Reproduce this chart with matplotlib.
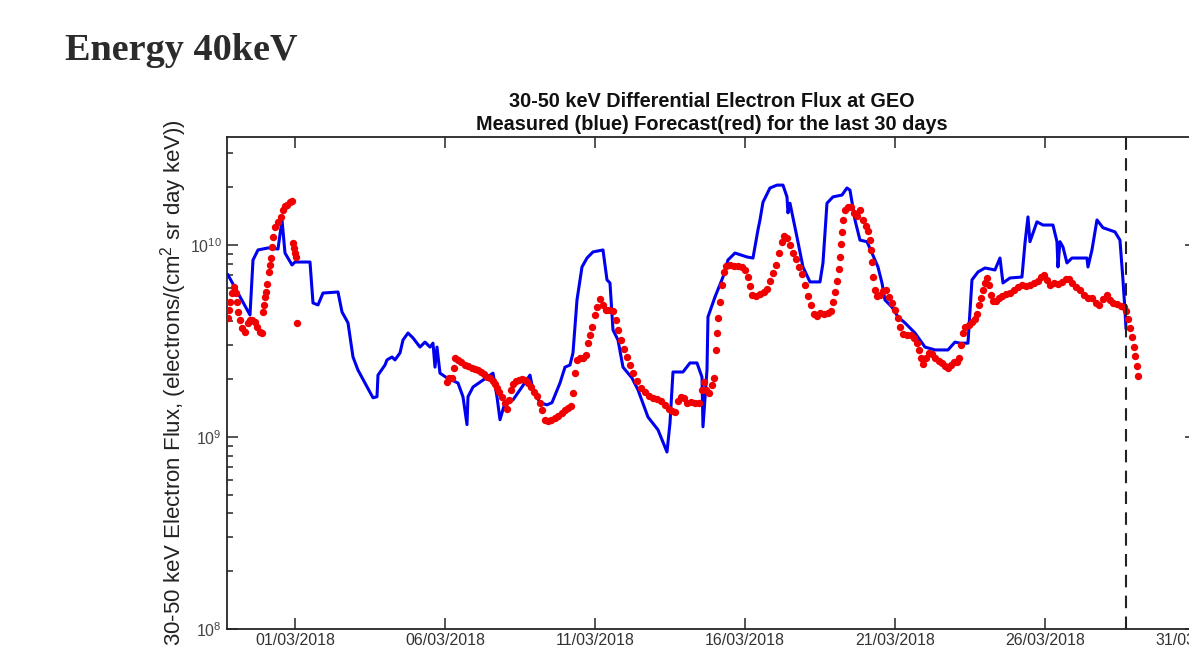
import matplotlib
matplotlib.use("Agg")
import matplotlib.pyplot as plt
import matplotlib.dates as mdates
import matplotlib.ticker as mticker
import numpy as np
import pandas as pd

# time axis: hours after 01/03/2018 00:00, flux in units of 1e9
t0 = pd.Timestamp("2018-03-01 00:00")
forecast_start = pd.Timestamp("2018-03-28 16:48")
x_start = pd.Timestamp("2018-02-26 17:36")
x_end = pd.Timestamp("2018-03-31 00:50")
tick_dates = pd.date_range("2018-03-01", "2018-03-31", freq="5D")

# measured (blue line)
blue_hours = [
    -53.6, -36.0, -33.6, -29.6, -21.6, -13.6, -10.4, -8.0, -2.4, 0.0,
    12.0, 14.4, 18.4, 22.4, 34.4, 37.6, 42.4, 46.4, 50.4, 62.4,
    65.6, 66.4, 72.0, 73.6, 77.6, 80.0, 84.0, 86.4, 90.4, 94.4,
    100.0, 104.0, 108.0, 110.4, 112.0, 113.6, 116.0, 121.6, 130.4, 134.4,
    137.6, 138.4, 142.4, 148.0, 158.4, 161.6, 164.0, 168.0, 174.4, 180.0,
    188.0, 190.4, 196.0, 201.6, 205.6, 212.0, 216.0, 220.0, 222.4, 225.6,
    229.6, 233.6, 238.4, 246.4, 249.6, 252.0, 254.4, 258.4, 262.4, 269.6,
    274.4, 282.4, 290.4, 297.6, 300.0, 302.4, 310.4, 316.0, 321.6, 325.6,
    326.4, 329.6, 330.4, 336.0, 342.4, 346.4, 352.0, 361.6, 366.4, 370.4,
    372.0, 374.4, 380.0, 385.6, 390.4, 393.6, 394.4, 396.0, 401.6, 406.4,
    412.0, 420.0, 422.4, 425.6, 430.4, 437.6, 441.6, 444.0, 448.0, 452.0,
    457.6, 461.6, 466.4, 469.6, 472.0, 477.6, 482.4, 488.0, 496.0, 504.0,
    512.0, 522.4, 528.0, 532.0, 538.4, 541.6, 546.4, 552.0, 560.0, 564.0,
    566.4, 572.0, 581.6, 584.0, 586.4, 588.0, 593.6, 598.4, 606.4, 609.6,
    610.4, 612.0, 614.4, 617.6, 621.6, 633.6, 634.4, 637.6, 641.6, 646.4,
    656.0, 660.0, 662.4, 664.0, 664.8,
]
blue_flux = [
    6.98, 4.32, 8.35, 9.42, 9.65, 9.53, 13.5, 9.08, 7.87, 8.15,
    8.15, 4.99, 4.87, 5.62, 5.69, 4.48, 3.93, 2.61, 2.23, 1.60,
    1.62, 2.10, 2.37, 2.52, 2.61, 2.52, 2.74, 3.20, 3.48, 3.28,
    2.94, 3.12, 2.94, 3.08, 2.31, 2.94, 2.15, 2.03, 1.91, 1.62,
    1.16, 1.62, 1.82, 1.93, 2.15, 1.62, 1.23, 1.51, 1.56, 1.76,
    2.10, 1.76, 1.51, 1.47, 1.51, 1.91, 2.31, 2.37, 2.74, 5.17,
    7.68, 8.55, 9.20, 9.42, 6.58, 6.34, 3.61, 3.20, 2.31, 2.03,
    1.76, 1.27, 1.09, 0.835, 1.18, 2.18, 2.18, 2.43, 2.43, 2.05,
    1.13, 2.23, 4.22, 5.36, 6.81, 8.35, 9.08, 8.66, 8.55, 12.0,
    13.5, 16.7, 19.8, 20.5, 20.5, 17.8, 14.7, 16.5, 11.0, 7.68,
    6.42, 6.42, 8.06, 16.5, 17.8, 18.2, 19.8, 19.3, 13.5, 10.6,
    10.4, 9.08, 7.68, 6.34, 5.17, 4.75, 4.22, 3.93, 3.48, 2.94,
    2.84, 2.84, 3.12, 3.08, 3.08, 6.58, 7.23, 7.59, 7.41, 8.55,
    6.34, 6.73, 6.81, 10.2, 14.0, 10.4, 13.2, 12.7, 12.7, 10.4,
    7.68, 10.4, 9.76, 8.06, 8.55, 8.55, 7.68, 9.42, 13.5, 12.3,
    11.7, 10.6, 6.58, 4.59, 3.70,
]

# forecast (red dots)
red_hours = [
    -53.6, -52.8, -52.0, -50.4, -48.8, -47.2, -46.4, -45.6, -44.0, -42.4,
    -40.0, -37.6, -36.0, -34.4, -32.0, -30.4, -28.0, -26.4, -25.6, -24.8,
    -24.0, -23.2, -22.4, -20.8, -20.0, -19.2, -18.4, -17.6, -16.0, -13.6,
    -11.2, -9.6, -8.0, -6.4, -4.0, -2.4, -1.6, -0.8, 0.0, 0.8,
    1.6,
    121.6, 123.2, 125.6, 127.2, 128.0, 130.4, 132.8, 136.0, 138.4, 141.6,
    144.0, 146.4, 148.8, 151.2, 153.6, 156.0, 158.4, 160.0, 161.6, 163.2,
    165.6, 168.0, 169.6, 171.2, 172.8, 174.4, 176.8, 179.2, 181.6, 184.0,
    186.4, 188.8, 191.2, 193.6, 196.0, 197.6, 200.0, 202.4, 204.8, 208.0,
    210.4, 213.6, 216.0, 218.4, 220.8, 222.4, 224.0, 225.6, 228.0, 230.4,
    232.8, 234.4, 236.0, 237.6, 240.0, 241.6, 244.0, 246.4, 248.8, 251.2,
    254.4, 256.8, 258.4, 260.8, 263.2, 265.6, 268.0, 270.4, 273.6, 276.8,
    280.0, 283.2, 286.4, 289.6, 292.8, 296.0, 299.2, 301.6, 304.0, 306.4,
    308.8, 311.2, 313.6, 316.8, 320.0, 323.2, 325.6, 327.2, 328.8, 331.2,
    333.6, 335.2, 336.8, 337.6, 338.4, 340.0, 341.6, 343.2, 344.8, 348.0,
    351.2, 354.4, 357.6, 360.0, 362.4, 364.0, 365.6, 368.8, 372.0, 375.2,
    377.6, 380.0, 382.4, 384.8, 387.2, 389.6, 391.2, 393.6, 396.0, 398.4,
    400.8, 403.2, 405.6, 408.0, 410.4, 412.8, 415.2, 417.6, 420.0, 423.2,
    426.4, 428.8, 430.4, 432.0, 433.6, 435.2, 436.0, 436.8, 437.6, 438.4,
    440.0, 442.4, 444.8, 447.2, 449.6, 452.0, 454.4, 456.8, 458.4, 460.0,
    460.8, 461.6, 462.4, 464.0, 465.6, 468.0, 470.4, 472.8, 475.2, 477.6,
    480.0, 482.4, 484.0, 486.4, 489.6, 492.8, 495.2, 497.6, 499.2, 500.8,
    502.4, 504.8, 507.2, 509.6, 512.0, 515.2, 517.6, 520.0, 522.4, 524.8,
    527.2, 529.6, 531.2, 532.8, 534.4, 536.0, 539.2, 541.6, 544.0, 545.6,
    547.2, 548.8, 550.4, 552.0, 553.6, 555.2, 556.8, 558.4, 560.8, 563.2,
    565.6, 568.8, 572.0, 575.2, 578.4, 581.6, 584.8, 588.0, 591.2, 594.4,
    596.8, 599.2, 601.6, 604.0, 607.2, 610.4, 613.6, 616.8, 619.2, 621.6,
    624.8, 628.0, 631.2, 634.4, 637.6, 640.8, 643.2, 646.4, 649.6, 652.0,
    654.4, 657.6, 660.8, 663.2, 664.8, 666.4, 668.0, 669.6, 671.2, 672.0,
    673.6, 674.4,
]
red_flux = [
    4.17, 4.59, 5.05, 5.62, 6.04, 5.62, 5.05, 4.48, 4.07, 3.70,
    3.52, 3.93, 4.07, 4.07, 3.97, 3.74, 3.52, 3.48, 4.48, 4.87,
    5.36, 5.69, 6.27, 7.23, 7.87, 8.55, 9.76, 11.0, 12.4, 13.2,
    14.0, 15.2, 16.0, 16.2, 16.8, 17.0, 10.2, 9.65, 9.08, 8.66,
    3.93,
    1.93, 2.03, 2.03, 2.29, 2.58, 2.52, 2.46, 2.37, 2.34, 2.29,
    2.26, 2.23, 2.18, 2.13, 2.05, 2.03, 1.96, 1.89, 1.80, 1.72,
    1.62, 1.51, 1.40, 1.56, 1.76, 1.89, 1.96, 1.98, 2.00, 1.98,
    1.91, 1.82, 1.72, 1.64, 1.51, 1.38, 1.23, 1.21, 1.23, 1.26,
    1.29, 1.34, 1.38, 1.42, 1.45, 1.70, 2.15, 2.52, 2.58, 2.58,
    2.67, 3.08, 3.40, 3.74, 4.32, 4.75, 5.23, 4.87, 4.59, 4.59,
    4.53, 4.07, 3.61, 3.20, 2.87, 2.61, 2.37, 2.15, 1.96, 1.80,
    1.72, 1.64, 1.60, 1.58, 1.54, 1.47, 1.40, 1.37, 1.35, 1.54,
    1.62, 1.60, 1.51, 1.52, 1.51, 1.51, 1.76, 1.93, 1.76, 1.70,
    1.87, 2.03, 2.84, 3.48, 4.17, 5.05, 6.19, 7.23, 7.77, 7.87,
    7.77, 7.77, 7.68, 7.41, 6.81, 6.12, 5.49, 5.42, 5.56, 5.69,
    5.90, 6.50, 7.15, 7.87, 9.08, 10.4, 11.1, 10.9, 10.0, 9.08,
    8.45, 7.68, 7.06, 6.19, 5.42, 4.87, 4.37, 4.27, 4.43, 4.37,
    4.43, 4.53, 5.05, 5.69, 6.50, 7.50, 8.66, 10.1, 11.7, 13.5,
    15.2, 15.8, 15.8, 14.7, 14.2, 15.2, 13.5, 12.6, 11.8, 10.6,
    9.42, 8.15, 6.81, 5.83, 5.42, 5.49, 5.76, 5.83, 5.36, 4.99,
    4.59, 4.17, 3.74, 3.44, 3.40, 3.40, 3.28, 3.08, 2.84, 2.58,
    2.40, 2.58, 2.74, 2.70, 2.58, 2.49, 2.43, 2.34, 2.29, 2.37,
    2.46, 2.46, 2.58, 3.01, 3.48, 3.74, 3.83, 3.97, 4.12, 4.37,
    4.87, 5.30, 5.83, 6.34, 6.73, 6.19, 5.49, 5.11, 5.11, 5.30,
    5.42, 5.56, 5.62, 5.83, 6.04, 6.19, 6.12, 6.19, 6.34, 6.50,
    6.81, 6.98, 6.58, 6.19, 6.34, 6.27, 6.42, 6.65, 6.65, 6.34,
    6.04, 5.83, 5.49, 5.30, 5.30, 4.99, 4.87, 5.23, 5.49, 5.17,
    4.99, 4.93, 4.81, 4.75, 4.53, 4.12, 3.70, 3.32, 2.94, 2.64,
    2.34, 2.08,
]

plt.rcParams["font.family"] = ["Liberation Sans", "DejaVu Sans"]
plt.rcParams["mathtext.fontset"] = "custom"
plt.rcParams["mathtext.rm"] = "Liberation Sans"
plt.rcParams["mathtext.it"] = "Liberation Sans:italic"
plt.rcParams["mathtext.bf"] = "Liberation Sans:bold"
plt.rcParams["mathtext.default"] = "regular"

blue_t = t0 + pd.to_timedelta(blue_hours, unit="h")
red_t = t0 + pd.to_timedelta(red_hours, unit="h")

W, H = 1189, 654
fig = plt.figure(figsize=(W / 100, H / 100), dpi=100)
fig.patch.set_facecolor("white")

# page heading above the chart
fig.text(65 / W, 1 - 60 / H, "Energy 40keV", family=["Liberation Serif"],
         weight="bold", size=27.5, color="#2b2b2b", va="baseline", ha="left")

# axes extends a little past the right edge, like the cropped screenshot
ax = fig.add_axes([227 / W, 25 / H, (1196 - 227) / W, 492 / H])

ax.plot(blue_t, np.array(blue_flux) * 1e9, color="#0000f0", lw=2.2, zorder=2)
ax.plot(red_t, np.array(red_flux) * 1e9, "o", color="#f00000", ms=5.3,
        mec="none", zorder=3)
ax.axvline(forecast_start, color="#222222", lw=1.5, ls=(0, (6, 4)), zorder=4)

ax.set_yscale("log")
ax.set_ylim(1e8, 3.65e10)
ax.set_xlim(x_start, x_end)

ax.set_xticks(tick_dates)
ax.xaxis.set_major_formatter(mdates.DateFormatter("%d/%m/%Y"))
ax.yaxis.set_major_locator(mticker.LogLocator(base=10))
ax.yaxis.set_minor_locator(mticker.LogLocator(base=10, subs=np.arange(2, 10)))
ax.yaxis.set_minor_formatter(mticker.NullFormatter())

ax.tick_params(which="both", direction="in", top=True, right=True,
               color="#262626", width=1.1)
ax.tick_params(which="major", length=8)
ax.tick_params(which="minor", length=4)
ax.tick_params(axis="x", labelsize=11.5, labelcolor="#333333", pad=3)
ax.tick_params(axis="y", labelsize=11.5, labelcolor="#444444", pad=4)
ax.tick_params(axis="y", which="minor", left=True, right=True)

for s in ax.spines.values():
    s.set_color("#262626")
    s.set_linewidth(1.3)

ax.set_title("30-50 keV Differential Electron Flux at GEO\n"
             "Measured (blue) Forecast(red) for the last 30 days",
             fontsize=14.3, fontweight="bold", color="#111111", pad=5,
             linespacing=1.3)
ax.set_ylabel("30-50 keV Electron Flux, (electrons/(cm$^2$ sr day keV))",
              fontsize=16, color="#222222")
ax.yaxis.set_label_coords(-0.039, 0.5)

fig.savefig("out.png", dpi=100)
